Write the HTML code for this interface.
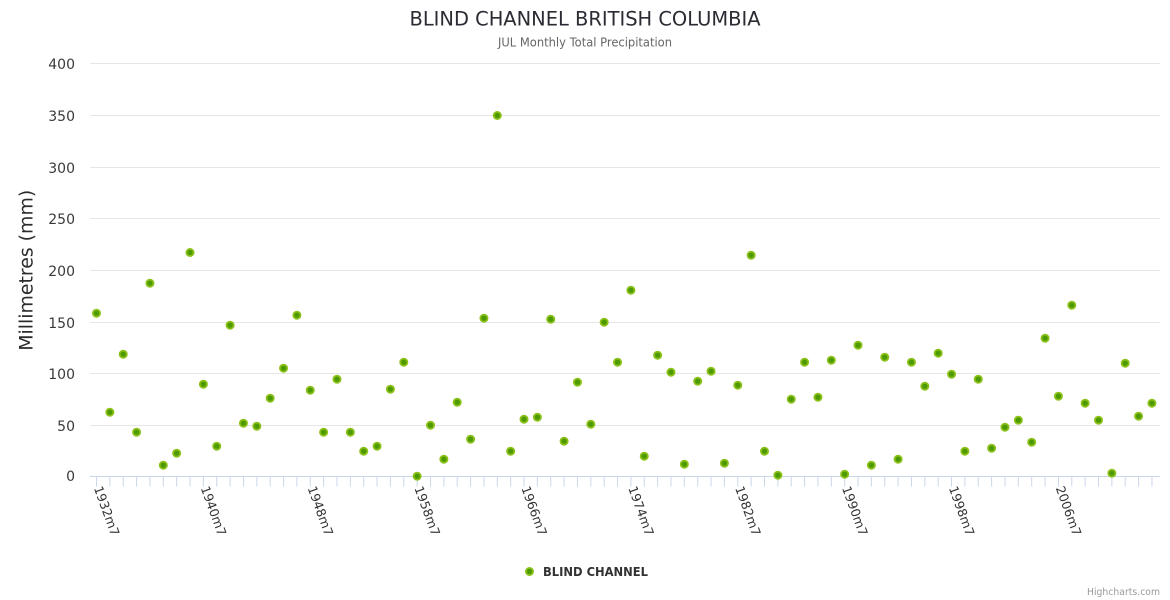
<!DOCTYPE html>
<html>
<head>
<meta charset="utf-8">
<style>
  html, body { margin: 0; padding: 0; background: #ffffff; }
  body { width: 1170px; height: 600px; overflow: hidden; }
  svg { display: block; font-family: "DejaVu Sans", "Liberation Sans", sans-serif; }
</style>
</head>
<body>
<svg width="1170" height="600" viewBox="0 0 1170 600" xmlns="http://www.w3.org/2000/svg">
  <rect x="0" y="0" width="1170" height="600" fill="#ffffff"/>

  <text x="585" y="25.5" text-anchor="middle" font-size="19.4" fill="#2b2b33" textLength="351" lengthAdjust="spacingAndGlyphs">BLIND CHANNEL BRITISH COLUMBIA</text>
  <text x="585" y="46.5" text-anchor="middle" font-size="12" fill="#666666" textLength="174" lengthAdjust="spacingAndGlyphs">JUL Monthly Total Precipitation</text>

  <path stroke="#e6e6e6" stroke-width="1" fill="none" d="M90 63.5H1160M90 115.5H1160M90 167.5H1160M90 218.5H1160M90 270.5H1160M90 322.5H1160M90 373.5H1160M90 425.5H1160"/>

  <g font-size="14" fill="#3a3a3a" text-anchor="end">
    <text x="75" y="69">400</text>
    <text x="75" y="121">350</text>
    <text x="75" y="173">300</text>
    <text x="75" y="224">250</text>
    <text x="75" y="276">200</text>
    <text x="75" y="328">150</text>
    <text x="75" y="379">100</text>
    <text x="75" y="431">50</text>
    <text x="75" y="481">0</text>
  </g>

  <text transform="translate(32.7,270.3) rotate(-90)" text-anchor="middle" font-size="18.8" fill="#2b2b2b" textLength="161" lengthAdjust="spacingAndGlyphs">Millimetres (mm)</text>

  <line x1="90" y1="476.5" x2="1160" y2="476.5" stroke="#ccd6eb" stroke-width="1"/>

  <path stroke="#ccd6eb" stroke-width="1" fill="none" d="M96.5 476.5v10M109.86 476.5v10M123.22 476.5v10M136.58 476.5v10M149.94 476.5v10M163.3 476.5v10M176.66 476.5v10M190.02 476.5v10M203.38 476.5v10M216.74 476.5v10M230.1 476.5v10M243.46 476.5v10M256.82 476.5v10M270.18 476.5v10M283.54 476.5v10M296.9 476.5v10M310.26 476.5v10M323.62 476.5v10M336.98 476.5v10M350.34 476.5v10M363.7 476.5v10M377.06 476.5v10M390.42 476.5v10M403.78 476.5v10M417.14 476.5v10M430.5 476.5v10M443.86 476.5v10M457.22 476.5v10M470.58 476.5v10M483.94 476.5v10M497.3 476.5v10M510.66 476.5v10M524.02 476.5v10M537.38 476.5v10M550.74 476.5v10M564.1 476.5v10M577.46 476.5v10M590.82 476.5v10M604.18 476.5v10M617.54 476.5v10M630.9 476.5v10M644.26 476.5v10M657.62 476.5v10M670.98 476.5v10M684.34 476.5v10M697.7 476.5v10M711.06 476.5v10M724.42 476.5v10M737.78 476.5v10M751.14 476.5v10M764.5 476.5v10M777.86 476.5v10M791.22 476.5v10M804.58 476.5v10M817.94 476.5v10M831.3 476.5v10M844.66 476.5v10M858.02 476.5v10M871.38 476.5v10M884.74 476.5v10M898.1 476.5v10M911.46 476.5v10M924.82 476.5v10M938.18 476.5v10M951.54 476.5v10M964.9 476.5v10M978.26 476.5v10M991.62 476.5v10M1004.98 476.5v10M1018.34 476.5v10M1031.7 476.5v10M1045.06 476.5v10M1058.42 476.5v10M1071.78 476.5v10M1085.14 476.5v10M1098.5 476.5v10M1111.86 476.5v10M1125.22 476.5v10M1138.58 476.5v10M1151.94 476.5v10"/>

  <g font-size="12.5" fill="#333333">
    <text transform="translate(93.7,488) rotate(70)" textLength="52" lengthAdjust="spacingAndGlyphs">1932m7</text>
    <text transform="translate(200.6,488) rotate(70)" textLength="52" lengthAdjust="spacingAndGlyphs">1940m7</text>
    <text transform="translate(307.5,488) rotate(70)" textLength="52" lengthAdjust="spacingAndGlyphs">1948m7</text>
    <text transform="translate(414.3,488) rotate(70)" textLength="52" lengthAdjust="spacingAndGlyphs">1958m7</text>
    <text transform="translate(521.2,488) rotate(70)" textLength="52" lengthAdjust="spacingAndGlyphs">1966m7</text>
    <text transform="translate(628.1,488) rotate(70)" textLength="52" lengthAdjust="spacingAndGlyphs">1974m7</text>
    <text transform="translate(735,488) rotate(70)" textLength="52" lengthAdjust="spacingAndGlyphs">1982m7</text>
    <text transform="translate(841.9,488) rotate(70)" textLength="52" lengthAdjust="spacingAndGlyphs">1990m7</text>
    <text transform="translate(948.7,488) rotate(70)" textLength="52" lengthAdjust="spacingAndGlyphs">1998m7</text>
    <text transform="translate(1055.6,488) rotate(70)" textLength="52" lengthAdjust="spacingAndGlyphs">2006m7</text>
  </g>

  <g fill="#4e9a02" stroke="#8cc11a" stroke-width="1.8">
    <circle cx="96.5" cy="313.2" r="3.6"/>
    <circle cx="109.86" cy="412.2" r="3.6"/>
    <circle cx="123.22" cy="354.2" r="3.6"/>
    <circle cx="136.58" cy="432.2" r="3.6"/>
    <circle cx="149.94" cy="283.2" r="3.6"/>
    <circle cx="163.3" cy="465.2" r="3.6"/>
    <circle cx="176.66" cy="453.2" r="3.6"/>
    <circle cx="190.02" cy="252.5" r="3.6"/>
    <circle cx="203.38" cy="384.2" r="3.6"/>
    <circle cx="216.74" cy="446.2" r="3.6"/>
    <circle cx="230.1" cy="325.2" r="3.6"/>
    <circle cx="243.46" cy="423.2" r="3.6"/>
    <circle cx="256.82" cy="426.2" r="3.6"/>
    <circle cx="270.18" cy="398.2" r="3.6"/>
    <circle cx="283.54" cy="368.2" r="3.6"/>
    <circle cx="296.9" cy="315.2" r="3.6"/>
    <circle cx="310.26" cy="390.2" r="3.6"/>
    <circle cx="323.62" cy="432.2" r="3.6"/>
    <circle cx="336.98" cy="379.2" r="3.6"/>
    <circle cx="350.34" cy="432.2" r="3.6"/>
    <circle cx="363.7" cy="451.2" r="3.6"/>
    <circle cx="377.06" cy="446.2" r="3.6"/>
    <circle cx="390.42" cy="389.2" r="3.6"/>
    <circle cx="403.78" cy="362.2" r="3.6"/>
    <circle cx="417.14" cy="476.2" r="3.6"/>
    <circle cx="430.5" cy="425.2" r="3.6"/>
    <circle cx="443.86" cy="459.2" r="3.6"/>
    <circle cx="457.22" cy="402.2" r="3.6"/>
    <circle cx="470.58" cy="439.2" r="3.6"/>
    <circle cx="483.94" cy="318.2" r="3.6"/>
    <circle cx="497.3" cy="115.5" r="3.6"/>
    <circle cx="510.66" cy="451.2" r="3.6"/>
    <circle cx="524.02" cy="419.2" r="3.6"/>
    <circle cx="537.38" cy="417.2" r="3.6"/>
    <circle cx="550.74" cy="319.2" r="3.6"/>
    <circle cx="564.1" cy="441.2" r="3.6"/>
    <circle cx="577.46" cy="382.2" r="3.6"/>
    <circle cx="590.82" cy="424.2" r="3.6"/>
    <circle cx="604.18" cy="322.2" r="3.6"/>
    <circle cx="617.54" cy="362.2" r="3.6"/>
    <circle cx="630.9" cy="290.2" r="3.6"/>
    <circle cx="644.26" cy="456.2" r="3.6"/>
    <circle cx="657.62" cy="355.2" r="3.6"/>
    <circle cx="670.98" cy="372.2" r="3.6"/>
    <circle cx="684.34" cy="464.2" r="3.6"/>
    <circle cx="697.7" cy="381.2" r="3.6"/>
    <circle cx="711.06" cy="371.2" r="3.6"/>
    <circle cx="724.42" cy="463.2" r="3.6"/>
    <circle cx="737.78" cy="385.2" r="3.6"/>
    <circle cx="751.14" cy="255.2" r="3.6"/>
    <circle cx="764.5" cy="451.2" r="3.6"/>
    <circle cx="777.86" cy="475.2" r="3.6"/>
    <circle cx="791.22" cy="399.2" r="3.6"/>
    <circle cx="804.58" cy="362.2" r="3.6"/>
    <circle cx="817.94" cy="397.2" r="3.6"/>
    <circle cx="831.3" cy="360.2" r="3.6"/>
    <circle cx="844.66" cy="474.2" r="3.6"/>
    <circle cx="858.02" cy="345.2" r="3.6"/>
    <circle cx="871.38" cy="465.2" r="3.6"/>
    <circle cx="884.74" cy="357.2" r="3.6"/>
    <circle cx="898.1" cy="459.2" r="3.6"/>
    <circle cx="911.46" cy="362.2" r="3.6"/>
    <circle cx="924.82" cy="386.2" r="3.6"/>
    <circle cx="938.18" cy="353.2" r="3.6"/>
    <circle cx="951.54" cy="374.2" r="3.6"/>
    <circle cx="964.9" cy="451.2" r="3.6"/>
    <circle cx="978.26" cy="379.2" r="3.6"/>
    <circle cx="991.62" cy="448.2" r="3.6"/>
    <circle cx="1004.98" cy="427.2" r="3.6"/>
    <circle cx="1018.34" cy="420.2" r="3.6"/>
    <circle cx="1031.7" cy="442.2" r="3.6"/>
    <circle cx="1045.06" cy="338.2" r="3.6"/>
    <circle cx="1058.42" cy="396.2" r="3.6"/>
    <circle cx="1071.78" cy="305.2" r="3.6"/>
    <circle cx="1085.14" cy="403.2" r="3.6"/>
    <circle cx="1098.5" cy="420.2" r="3.6"/>
    <circle cx="1111.86" cy="473.2" r="3.6"/>
    <circle cx="1125.22" cy="363.2" r="3.6"/>
    <circle cx="1138.58" cy="416.2" r="3.6"/>
    <circle cx="1151.94" cy="403.2" r="3.6"/>
  </g>

  <circle cx="529.5" cy="571.5" r="3.6" fill="#4e9a02" stroke="#8cc11a" stroke-width="1.8"/>
  <text x="543" y="576" font-size="12" font-weight="bold" fill="#333333" textLength="105" lengthAdjust="spacingAndGlyphs">BLIND CHANNEL</text>

  <text x="1160" y="595" text-anchor="end" font-size="9.5" fill="#999999" textLength="73" lengthAdjust="spacingAndGlyphs">Highcharts.com</text>
</svg>
</body>
</html>
